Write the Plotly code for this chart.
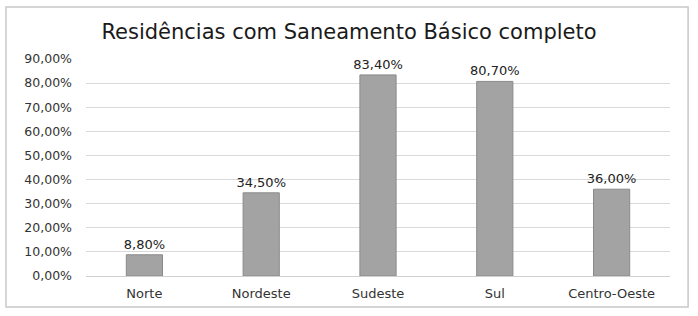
import plotly.graph_objects as go

categories = ["Norte", "Nordeste", "Sudeste", "Sul", "Centro-Oeste"]
values = [8.80, 34.50, 83.40, 80.70, 36.00]
y_ticks = [0, 10, 20, 30, 40, 50, 60, 70, 80, 90]
y_tick_labels = ["0,00%", "10,00%", "20,00%", "30,00%", "40,00%", "50,00%",
                 "60,00%", "70,00%", "80,00%", "90,00%"]
bar_labels = ["8,80%", "34,50%", "83,40%", "80,70%", "36,00%"]
title = "Residências com Saneamento Básico completo"

font_family = "DejaVu Sans, sans-serif"

fig = go.Figure(go.Bar(
    x=categories, y=values,
    text=bar_labels, textposition="outside", cliponaxis=False,
    constraintext="none",
    textfont=dict(size=13, color="#222222", family=font_family),
    marker=dict(color="#a3a3a3", line=dict(color="#8a8a8a", width=1)),
))

fig.update_layout(
    width=698, height=316,
    margin=dict(l=86, r=28, t=59, b=40),
    paper_bgcolor="white", plot_bgcolor="white",
    bargap=0.69,
    showlegend=False,
    title=dict(text=title, x=0.5, xanchor="center", y=0.9, yanchor="middle",
               font=dict(size=21, color="#1a1a1a", family=font_family)),
    font=dict(family=font_family, color="#333333"),
    shapes=[dict(type="rect", xref="paper", yref="paper",
                 x0=-0.137, x1=1.031, y0=-0.143, y1=1.24,
                 line=dict(color="#c8c8c8", width=1.5), fillcolor="rgba(0,0,0,0)")],
)
fig.update_xaxes(showline=False, showgrid=False, ticks="", ticklabelstandoff=8,
                 tickfont=dict(size=13, color="#333333"))
fig.update_yaxes(range=[0, 90], tickvals=y_ticks, ticktext=y_tick_labels,
                 showgrid=True, gridcolor="#d9d9d9", gridwidth=1,
                 zeroline=True, zerolinecolor="#d0d0d0", zerolinewidth=1,
                 showline=False, ticks="", ticklabelstandoff=13,
                 tickfont=dict(size=12.5, color="#333333"))

fig.write_html("out.html")
